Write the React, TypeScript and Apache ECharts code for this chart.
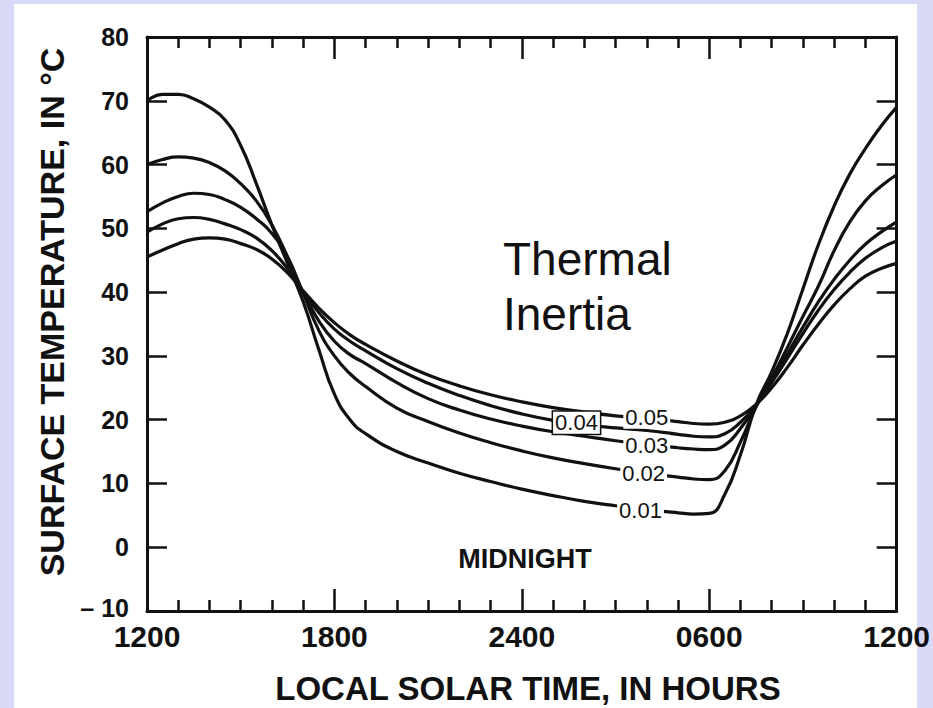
import React, { useEffect, useRef } from "react";
import * as echarts from "echarts";

// Local solar time in hours after noon (0 = 1200, 24 = 1200 next day)
const hours = [0, 0.5, 1, 1.5, 2, 2.5, 3, 3.5, 4, 4.5, 5, 5.5, 6, 6.5, 7, 8, 9, 10, 11, 12, 13, 14, 15, 16, 17, 17.5, 18, 18.5, 19, 19.5, 20, 20.5, 21, 21.5, 22, 22.5, 23, 23.5, 24];

// Surface temperature (°C) for each thermal inertia value
const inertia001 = [70, 71, 71, 70.3, 69, 67, 63, 57, 50.5, 44.5, 38.5, 31, 24, 20, 17.8, 15, 13.2, 11.6, 10.3, 9.1, 8.1, 7.2, 6.5, 5.9, 5.4, 5.2, 5.3, 8.3, 14.5, 22.3, 27.5, 33.5, 40.5, 47.5, 53.5, 58.5, 62.5, 66, 69];
const inertia002 = [60, 60.8, 61.2, 61, 60.3, 59, 57, 54.3, 50.5, 45.5, 39.8, 34, 30, 27.2, 25.2, 21.8, 19.7, 17.9, 16.4, 15.1, 14, 13.1, 12.3, 11.6, 11, 10.7, 10.6, 12, 16.5, 22, 26.5, 31.3, 36.2, 41, 46.5, 51, 54.3, 56.6, 58.4];
const inertia003 = [52.6, 54, 55, 55.5, 55.3, 54.5, 53.3, 51.5, 49.2, 45.5, 39.9, 35.5, 32.3, 30.2, 28.8, 25.8, 23.3, 21.5, 20.1, 19, 18.1, 17.4, 16.7, 16.1, 15.6, 15.4, 15.3, 16, 18.6, 22.2, 26.2, 30.3, 34.5, 38.5, 42, 45, 47.5, 49.4, 51];
const inertia004 = [49.4, 50.7, 51.5, 51.7, 51.4, 50.7, 49.8, 48.5, 46.5, 43.7, 40, 36.8, 34.2, 32.3, 30.8, 28, 25.7, 23.8, 22.2, 20.9, 19.9, 19.2, 18.7, 18.3, 17.7, 17.4, 17.3, 17.8, 19.6, 22.3, 25.8, 29.6, 33.5, 37.2, 40.4, 43.1, 45.3, 46.9, 48];
const inertia005 = [45.5, 46.6, 47.6, 48.3, 48.5, 48.3, 47.6, 46.7, 45.2, 43, 40.2, 37.5, 35.2, 33.3, 31.8, 29.2, 27, 25.3, 23.9, 22.8, 21.9, 21.2, 20.6, 20.2, 19.7, 19.4, 19.3, 19.6, 20.6, 22.4, 25, 28.2, 31.7, 35, 38, 40.5, 42.5, 43.7, 44.5];

// Inline curve labels
const inertiaLabels = ["0.01", "0.02", "0.03", "0.04", "0.05"];
const labelHours = [15.8, 15.9, 16.0, 13.75, 16.0];
const labelTemps = [5.8, 11.5, 15.9, 19.5, 20.3];

// Axis ticks
const timeTicks = [0, 6, 12, 18, 24];
const timeTickLabels = ["1200", "1800", "2400", "0600", "1200"];

const INK = "#111111";
const LAVENDER = "#D9D9F8";
const SANS = "'Liberation Sans', Arial, Helvetica, sans-serif";

export default function App() {
  const ref = useRef<HTMLDivElement>(null);

  useEffect(() => {
    const el = ref.current;
    if (!el) return;
    const chart = echarts.init(el, undefined, { renderer: "svg" });
    const curves = [inertia001, inertia002, inertia003, inertia004, inertia005];

    const timeAxis = (position: "bottom" | "top", labels: boolean) => ({
      type: "value",
      position,
      min: 0,
      max: 24,
      interval: 6,
      axisLine: { show: true, onZero: false, lineStyle: { color: INK, width: 3 } },
      axisTick: { show: true, inside: true, length: 22, lineStyle: { color: INK, width: 2.5 } },
      minorTick: { show: true, splitNumber: 6, length: 11, lineStyle: { color: INK, width: 2.5 } },
      splitLine: { show: false },
      minorSplitLine: { show: false },
      axisLabel: {
        show: labels,
        margin: 10,
        color: INK,
        fontFamily: SANS,
        fontWeight: "bold",
        fontSize: 30,
        formatter: (v: number) => {
          const i = timeTicks.indexOf(v);
          return i >= 0 ? timeTickLabels[i] : "";
        },
      },
    });

    const tickFont = { color: INK, fontFamily: SANS, fontWeight: "bold", fontSize: 25 };
    const tempAxis = (position: "left" | "right", labels: boolean) => ({
      type: "value",
      position,
      min: -10,
      max: 80,
      interval: 10,
      axisLine: { show: true, onZero: false, lineStyle: { color: INK, width: 3 } },
      axisTick: { show: true, inside: true, length: 20, lineStyle: { color: INK, width: 2.5 } },
      splitLine: { show: false },
      axisLabel: {
        show: labels,
        margin: 18,
        ...tickFont,
        formatter: (v: number) => (v < 0 ? "{neg|\u2013 " + Math.abs(v) + "}" : "{pos|" + v + "}"),
        rich: {
          pos: { ...tickFont },
          neg: { ...tickFont, padding: [0, 0, 6, 0] },
        },
      },
    });

    const labelData = inertiaLabels.map((name, i) => ({
      name,
      value: [labelHours[i], labelTemps[i]],
      label: {
        show: true,
        position: "inside",
        formatter: "{b}",
        color: INK,
        fontFamily: SANS,
        fontSize: 22,
        backgroundColor: "#ffffff",
        padding: [0, 2, 0, 2],
        borderColor: name === "0.04" ? INK : "transparent",
        borderWidth: name === "0.04" ? 1.5 : 0,
      },
    }));

    chart.setOption({
      animation: false,
      backgroundColor: "transparent",
      grid: { left: 147, right: 36, top: 37, bottom: 97, containLabel: false },
      xAxis: [timeAxis("bottom", true), timeAxis("top", false)],
      yAxis: [tempAxis("left", true), tempAxis("right", false)],
      series: [
        ...curves.map((temps, i) => ({
          type: "line",
          name: inertiaLabels[i],
          data: hours.map((h, j) => [h, temps[j]]),
          smooth: 0.5,
          showSymbol: false,
          symbol: "none",
          silent: true,
          lineStyle: { color: INK, width: 3.2 },
          z: 2,
        })),
        {
          type: "scatter",
          symbolSize: 0,
          silent: true,
          z: 5,
          itemStyle: { opacity: 1 },
          data: [
            ...labelData,
            {
              name: "MIDNIGHT",
              value: [12.1, -1.9],
              label: {
                show: true,
                position: "inside",
                formatter: "{b}",
                color: INK,
                fontFamily: SANS,
                fontWeight: "bold",
                fontSize: 27,
              },
            },
          ],
        },
      ],
      graphic: [
        {
          type: "text",
          x: 52,
          y: 312,
          rotation: Math.PI / 2,
          style: {
            text: "SURFACE TEMPERATURE, IN \u00B0C",
            fill: INK,
            font: `bold 34px ${SANS}`,
            textAlign: "center",
            textVerticalAlign: "middle",
          },
        },
        {
          type: "text",
          x: 528,
          y: 688,
          style: {
            text: "LOCAL SOLAR TIME, IN HOURS",
            fill: INK,
            font: `bold 33px ${SANS}`,
            textAlign: "center",
            textVerticalAlign: "middle",
          },
        },
        {
          type: "text",
          x: 503,
          y: 282,
          style: {
            text: "Thermal",
            fill: INK,
            font: `46px ${SANS}`,
            textAlign: "left",
            textVerticalAlign: "bottom",
          },
        },
        {
          type: "text",
          x: 503,
          y: 337,
          style: {
            text: "Inertia",
            fill: INK,
            font: `46px ${SANS}`,
            textAlign: "left",
            textVerticalAlign: "bottom",
          },
        },
      ],
    });

    return () => chart.dispose();
  }, []);

  return (
    <div style={{ position: "fixed", left: 0, top: 0, width: 933, height: 708, background: LAVENDER }}>
      <div style={{ position: "absolute", left: 14, top: 4, width: 903, height: 704, background: "#ffffff" }} />
      <div ref={ref} style={{ position: "absolute", left: 0, top: 0, width: 933, height: 708 }} />
    </div>
  );
}
